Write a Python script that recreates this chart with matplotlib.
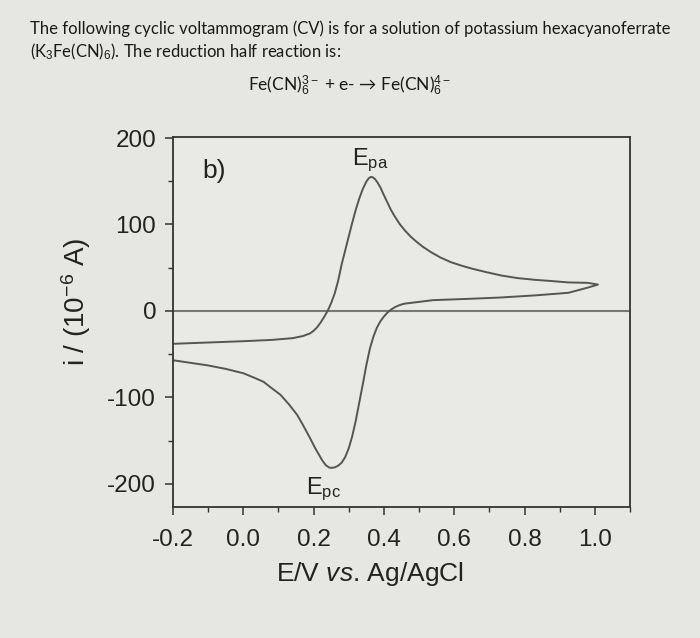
import matplotlib.pyplot as plt
from matplotlib.ticker import MultipleLocator

plt.rcParams['font.family'] = ['Liberation Sans', 'DejaVu Sans']
plt.rcParams['mathtext.fontset'] = 'custom'
plt.rcParams['mathtext.rm'] = 'Liberation Sans'
plt.rcParams['mathtext.it'] = 'Liberation Sans:italic'
plt.rcParams['axes.unicode_minus'] = False

# forward (anodic) sweep, E in V, i in 1e-6 A
fwd_E = [-0.2, -0.1, 0.0, 0.08, 0.14, 0.17, 0.19, 0.2, 0.21, 0.22, 0.23,
         0.24, 0.25, 0.26, 0.27, 0.28, 0.29, 0.30, 0.31, 0.32, 0.33, 0.34,
         0.35, 0.357, 0.363, 0.369, 0.375, 0.382, 0.39, 0.40, 0.41, 0.42,
         0.43, 0.445, 0.46, 0.475, 0.49, 0.51, 0.534, 0.56, 0.59, 0.62,
         0.65, 0.69, 0.734, 0.78, 0.83, 0.88, 0.925, 0.98, 1.009]
fwd_i = [-38, -36.5, -35, -33.5, -31.5, -29, -26, -23, -19, -13.5, -7,
         0, 9, 20, 35, 54, 70, 86, 102, 117, 130, 141,
         149.5, 153.5, 155, 154.5, 152.5, 148.5, 143, 134, 125.5, 117,
         110, 100.5, 93, 86.5, 81, 74.5, 68, 62, 56.5, 52.5,
         49, 45, 41, 38, 36, 34.5, 33, 32.5, 30.5]

# reverse (cathodic) sweep
rev_E = [1.009, 0.98, 0.925, 0.83, 0.73, 0.64, 0.54, 0.49, 0.46, 0.45, 0.44,
         0.43, 0.42, 0.41, 0.40, 0.39, 0.38, 0.37, 0.36, 0.35, 0.34, 0.33,
         0.32, 0.31, 0.30, 0.29, 0.28, 0.27, 0.26, 0.25, 0.244, 0.235, 0.225,
         0.215, 0.205, 0.19, 0.17, 0.153, 0.13, 0.106, 0.08, 0.058, 0.03,
         0.0, -0.05, -0.1, -0.15, -0.2]
rev_i = [30.5, 27, 21, 18, 15.5, 14, 12.5, 10, 8.5, 7.5, 6,
         4, 1.5, -2, -6.5, -12, -19.5, -30, -44, -63, -85, -106,
         -127, -145, -159, -169, -175.5, -179, -181, -181.5, -181, -178.5, -173,
         -166, -159, -147, -132, -120, -108, -97, -89, -82, -77,
         -72, -67, -63, -60, -57]

x_ticks = [-0.2, 0.0, 0.2, 0.4, 0.6, 0.8, 1.0]
y_ticks = [-200, -100, 0, 100, 200]

bg = '#e6e6e3'
fig = plt.figure(figsize=(7, 6.38), dpi=100, facecolor=bg)
ax = fig.add_axes([0.247, 0.205, 0.653, 0.58], facecolor='#e9e9e6')

ax.axhline(0, color='#777777', lw=1.5)
ax.plot(fwd_E + rev_E[1:], fwd_i + rev_i[1:], color='#555555', lw=1.4)

ax.set_xlim(-0.2, 1.1)
ax.set_ylim(-227, 201)
ax.set_xticks(x_ticks)
ax.set_xticklabels(['%.1f' % v for v in x_ticks])
ax.set_yticks(y_ticks)
ax.xaxis.set_minor_locator(MultipleLocator(0.1))
ax.yaxis.set_minor_locator(MultipleLocator(50))
ax.tick_params(which='both', direction='out', top=False, right=False,
               labelsize=17.5, color='#333333', labelcolor='#222222')
ax.tick_params(which='major', length=6, width=1.1, pad=6)
ax.tick_params(axis='x', which='major', pad=10)
ax.tick_params(which='minor', length=3.5, width=1.0)
for s in ax.spines.values():
    s.set_color('#333333')
    s.set_linewidth(1.3)

ax.set_ylabel(r'i / (10$^{-6}$ A)', fontsize=20, color='#222222')
ax.yaxis.set_label_coords(-0.175, 0.556)
ax.set_xlabel(r'E/V $\it{vs}$. Ag/AgCl', fontsize=19, color='#222222')
ax.xaxis.set_label_coords(0.43, -0.142)

ax.text(0.065, 0.94, 'b)', transform=ax.transAxes, fontsize=19, va='top', color='#222222')
ax.text(0.36, 158, r'E$_{\rm pa}$', fontsize=17, ha='center', va='bottom', color='#222222')
ax.text(0.227, -190, r'E$_{\rm pc}$', fontsize=17, ha='center', va='top', color='#222222')

head = ['Lato', 'DejaVu Sans']
fig.text(0.043, 0.968, 'The following cyclic voltammogram (CV) is for a solution of potassium hexacyanoferrate',
         fontsize=12, family=head, va='top', color='#1a1a1a')
fig.text(0.043, 0.935, r'(K$_3$Fe(CN)$_6$). The reduction half reaction is:',
         fontsize=12, family=head, va='top', color='#1a1a1a')
fig.text(0.5, 0.865, 'Fe(CN)$_6^{3-}$ + e- \u2192 Fe(CN)$_6^{4-}$',
         fontsize=12.5, family=head, ha='center', va='center', color='#1a1a1a')

fig.savefig('out.png', dpi=100, facecolor=bg)
